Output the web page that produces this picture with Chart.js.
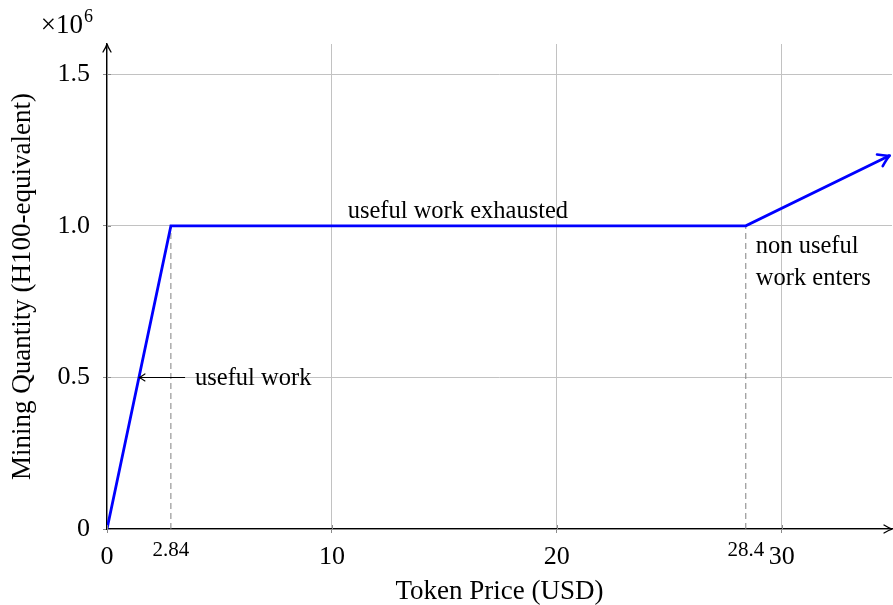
<!DOCTYPE html>
<html>
<head>
<meta charset="utf-8">
<script src="https://cdn.jsdelivr.net/npm/chart.js@4.4.1/dist/chart.umd.min.js"></script>
<style>
  html, body { margin: 0; padding: 0; background: #ffffff; }
  canvas { display: block; }
</style>
</head>
<body>
<canvas id="supply" width="893" height="605"></canvas>
<script>
// Mining supply curve: quantity of H100-equivalent compute vs token price
const supplyPrice    = [0, 2.84, 28.4, 34.8];
const supplyQuantity = [0, 1.0e6, 1.0e6, 1.232e6];

// kink prices marked with dashed drop lines and extra tick labels
const kinkPrices   = [2.84, 28.4];
const kinkQuantity = 1.0e6;

const xTickValues = [0, 10, 20, 30];
const yTickValues = [0, 0.5e6, 1.0e6, 1.5e6];
const yTickLabels = ['0', '0.5', '1.0', '1.5'];
const xRange = [0, 34.9];
const yRange = [0, 1.6e6];

// text notes anchored in data coordinates
const noteExhausted = { lines: ['useful work exhausted'], price: 15.6, quantity: 1.0e6 };
const noteNonUseful = { lines: ['non useful', 'work enters'], price: 28.4, quantity: 1.0e6 };
const noteUseful    = { lines: ['useful work'], price: 3.47, quantity: 0.5e6 };

const SERIF = "'Liberation Serif', 'DejaVu Serif', serif";
const GRID = '#c2c2c2';

// price on the rising segment where the given quantity is reached
function priceAt(q) {
  for (let i = 1; i < supplyPrice.length; i++) {
    const q0 = supplyQuantity[i - 1], q1 = supplyQuantity[i];
    if (q >= q0 && q <= q1 && q1 !== q0) {
      return supplyPrice[i - 1] + (q - q0) / (q1 - q0) * (supplyPrice[i] - supplyPrice[i - 1]);
    }
  }
  return supplyPrice[0];
}

function barbs(ctx, x, y, angle, len, half, color, width) {
  ctx.save();
  ctx.translate(x, y);
  ctx.rotate(angle);
  ctx.beginPath();
  ctx.moveTo(-len, -half);
  ctx.quadraticCurveTo(-len * 0.35, -half * 0.2, 0, 0);
  ctx.quadraticCurveTo(-len * 0.35, half * 0.2, -len, half);
  ctx.strokeStyle = color;
  ctx.lineWidth = width;
  ctx.lineCap = 'round';
  ctx.lineJoin = 'round';
  ctx.stroke();
  ctx.restore();
}

const decorations = {
  id: 'decorations',
  afterDatasetsDraw(chart) {
    const { ctx, chartArea: a, scales: { x, y } } = chart;

    // inner halves of the tick marks, crossing the axes
    ctx.save();
    ctx.strokeStyle = '#8a8a8a';
    ctx.lineWidth = 1;
    ctx.beginPath();
    yTickValues.forEach(v => {
      const py = Math.round(y.getPixelForValue(v)) + 0.5;
      ctx.moveTo(a.left, py); ctx.lineTo(a.left + 4, py);
    });
    xTickValues.forEach(v => {
      const px = Math.round(x.getPixelForValue(v)) + 0.5;
      ctx.moveTo(px, a.bottom); ctx.lineTo(px, a.bottom - 4);
    });
    ctx.stroke();
    ctx.restore();

    // axis arrow heads
    barbs(ctx, a.left, a.top, -Math.PI / 2, 8, 4, '#000', 1.3);
    barbs(ctx, a.right, a.bottom, 0, 8, 4, '#000', 1.3);

    // arrow head at the end of the supply curve
    const n = supplyPrice.length;
    const px1 = x.getPixelForValue(supplyPrice[n - 1]), py1 = y.getPixelForValue(supplyQuantity[n - 1]);
    const px0 = x.getPixelForValue(supplyPrice[n - 2]), py0 = y.getPixelForValue(supplyQuantity[n - 2]);
    barbs(ctx, px1, py1, Math.atan2(py1 - py0, px1 - px0), 11, 6.5, '#0000ff', 2.6);

    ctx.save();
    ctx.fillStyle = '#000';
    ctx.font = '24.5px ' + SERIF;

    // "useful work exhausted" above the plateau
    ctx.textAlign = 'center';
    ctx.textBaseline = 'alphabetic';
    ctx.fillText(noteExhausted.lines[0], x.getPixelForValue(noteExhausted.price),
                 y.getPixelForValue(noteExhausted.quantity) - 8);

    // "non useful / work enters" right of the second kink
    ctx.textAlign = 'left';
    ctx.textBaseline = 'middle';
    noteNonUseful.lines.forEach((t, i) => {
      ctx.fillText(t, x.getPixelForValue(noteNonUseful.price) + 10,
                   y.getPixelForValue(noteNonUseful.quantity) + 21 + i * 32);
    });

    // "useful work" with a pointer to the rising segment
    const ay = y.getPixelForValue(noteUseful.quantity);
    const tail = x.getPixelForValue(noteUseful.price);
    const tip = x.getPixelForValue(priceAt(noteUseful.quantity));
    ctx.fillText(noteUseful.lines[0], tail + 10, ay + 1);
    ctx.beginPath();
    ctx.moveTo(tail, ay);
    ctx.lineTo(tip + 1, ay);
    ctx.strokeStyle = '#000';
    ctx.lineWidth = 1.1;
    ctx.stroke();
    barbs(ctx, tip, ay, Math.PI, 6, 3.5, '#000', 1.1);

    // exponent of the quantity axis
    ctx.textAlign = 'right';
    ctx.textBaseline = 'alphabetic';
    ctx.font = '27px ' + SERIF;
    ctx.fillText('\u00d710', a.left - 24, 33);
    ctx.textAlign = 'left';
    ctx.font = '18px ' + SERIF;
    ctx.fillText('6', a.left - 23, 22);
    ctx.restore();
  }
};

const lineDatasets = [];
kinkPrices.forEach(p => {
  lineDatasets.push({
    data: [{ x: p, y: 0 }, { x: p, y: kinkQuantity }],
    borderColor: '#808080',
    borderWidth: 1,
    borderDash: [6, 4],
    pointRadius: 0,
    fill: false,
    order: 2
  });
});
lineDatasets.push({
  data: supplyPrice.map((p, i) => ({ x: p, y: supplyQuantity[i] })),
  borderColor: '#0000ff',
  borderWidth: 2.8,
  pointRadius: 0,
  tension: 0,
  fill: false,
  order: 1
});

new Chart(document.getElementById('supply'), {
  type: 'line',
  data: { datasets: lineDatasets },
  options: {
    responsive: false,
    animation: false,
    devicePixelRatio: 1,
    layout: { padding: { top: 44, right: 1, left: 0, bottom: 0 } },
    plugins: { legend: { display: false }, tooltip: { enabled: false } },
    scales: {
      x: {
        type: 'linear',
        position: 'bottom',
        min: xRange[0],
        max: xRange[1],
        afterBuildTicks: s => { s.ticks = xTickValues.map(v => ({ value: v })); },
        afterFit: s => { s.height = 76; },
        grid: { color: GRID, lineWidth: 1, tickLength: 4, tickColor: '#8a8a8a' },
        border: { color: '#000', width: 1.3 },
        ticks: {
          color: '#000',
          padding: 9,
          maxRotation: 0,
          font: { family: SERIF, size: 26 },
          callback: v => String(v)
        },
        title: {
          display: true,
          text: 'Token Price (USD)',
          color: '#000',
          font: { family: SERIF, size: 27, lineHeight: 1 },
          padding: { top: 0, bottom: 0 }
        }
      },
      // extra ticks at the kink prices, hung from the price axis line
      xk: {
        type: 'linear',
        position: { y: 0 },
        min: xRange[0],
        max: xRange[1],
        afterBuildTicks: s => { s.ticks = kinkPrices.map(v => ({ value: v })); },
        grid: { display: false, drawTicks: false },
        border: { display: false },
        ticks: {
          color: '#000',
          padding: 9,
          maxRotation: 0,
          autoSkip: false,
          font: { family: SERIF, size: 21 },
          callback: v => String(v)
        }
      },
      y: {
        type: 'linear',
        min: yRange[0],
        max: yRange[1],
        afterBuildTicks: s => { s.ticks = yTickValues.map(v => ({ value: v })); },
        afterFit: s => { s.width = 107; },
        grid: { color: GRID, lineWidth: 1, tickLength: 4, tickColor: '#8a8a8a' },
        border: { color: '#000', width: 1.3 },
        ticks: {
          color: '#000',
          padding: 13,
          font: { family: SERIF, size: 26 },
          callback: v => yTickLabels[yTickValues.indexOf(v)]
        },
        title: {
          display: true,
          text: 'Mining Quantity (H100-equivalent)',
          color: '#000',
          font: { family: SERIF, size: 27, lineHeight: 1 },
          padding: { top: 9, bottom: 0 }
        }
      }
    }
  },
  plugins: [decorations]
});
</script>
</body>
</html>
